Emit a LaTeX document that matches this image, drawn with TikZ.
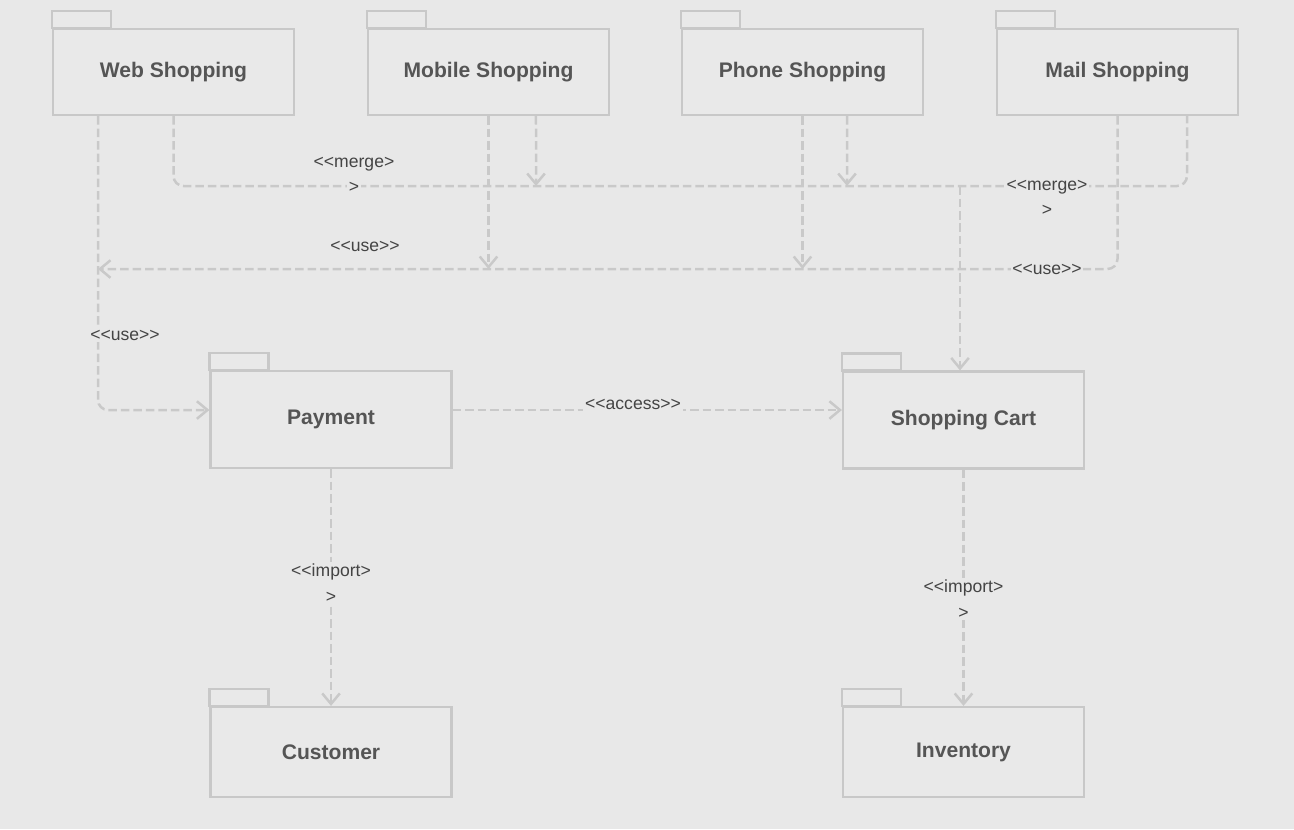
\documentclass[tikz,border=0pt]{standalone}
\usepackage{fontspec}
\setmainfont{Liberation Sans}[Ligatures=TeXOff]
\usetikzlibrary{arrows.meta}
\setlength{\fboxsep}{1pt}

\definecolor{bgcol}{HTML}{E8E8E8}
\definecolor{pkgfill}{HTML}{E9E9E9}
\definecolor{pkgline}{HTML}{C8C8C8}
\definecolor{depline}{HTML}{C9C9C9}
\definecolor{pkgtext}{HTML}{555555}
\definecolor{lbltext}{HTML}{444444}

\tikzset{
    pkg/.style={draw=pkgline, fill=pkgfill, line width=0.045cm, minimum width=4.82cm,
        text=pkgtext, font=\fontsize{12}{14}\selectfont\bfseries},
    pkgtab/.style={draw=pkgline, fill=pkgfill, line width=0.045cm},
    dep/.style={draw=depline, line width=0.05cm, dash pattern=on 0.17cm off 0.08cm,
        rounded corners=0.2cm},
    deparrow/.style={dep, -{Straight Barb[length=6pt,width=10pt]}},
    lbl/.style={text=lbltext, font=\fontsize{10}{14.5}\selectfont, align=center,
        inner sep=1pt, fill=bgcol}
}

\begin{document}
\begin{tikzpicture}[x=0.02cm, y=-0.02cm]

    \fill[bgcol] (0,0) rectangle (1294,829);
    \useasboundingbox (0,0) rectangle (1294,829);

    % top row of packages
    \node[pkg, minimum height=1.72cm] (web) at (173.5,72) {Web Shopping};
    \draw[pkgtab] (web.north west) rectangle ++(59,-17);

    \node[pkg, minimum height=1.72cm] (mobile) at (488.5,72) {Mobile Shopping};
    \draw[pkgtab] (mobile.north west) rectangle ++(59,-17);

    \node[pkg, minimum height=1.72cm] (phone) at (802.5,72) {Phone Shopping};
    \draw[pkgtab] (phone.north west) rectangle ++(59,-17);

    \node[pkg, minimum height=1.72cm] (mail) at (1117.5,72) {Mail Shopping};
    \draw[pkgtab] (mail.north west) rectangle ++(59,-17);

    % middle row
    \node[pkg, minimum height=1.94cm] (pay) at (331,419.5) {Payment};
    \draw[pkgtab] (pay.north west) rectangle ++(59,-17);

    \node[pkg, minimum height=1.94cm] (cart) at (963.5,420) {Shopping Cart};
    \draw[pkgtab] (cart.north west) rectangle ++(59,-17);

    % bottom row
    \node[pkg, minimum height=1.8cm] (cust) at (331,752) {Customer};
    \draw[pkgtab] (cust.north west) rectangle ++(59,-17);

    \node[pkg, minimum height=1.8cm] (inv) at (963.5,752) {Inventory};
    \draw[pkgtab] (inv.north west) rectangle ++(59,-17);

    % bus points
    \coordinate (mergeR) at (1187,186);
    \coordinate (mergeJ) at (960,186);
    \coordinate (mergeM) at (536,186);
    \coordinate (mergeP) at (847,186);
    \coordinate (useL) at (98,269);
    \coordinate (useM) at (488.5,269);
    \coordinate (useP) at (802.5,269);

    % merge
    \draw[dep] (web.south) |- (mergeR) -- ([xshift=1.39cm]mail.south);
    \draw[deparrow] (mergeJ) -- (cart.north -| mergeJ);
    \draw[deparrow] ([xshift=0.95cm]mobile.south) -- (mergeM);
    \draw[deparrow] ([xshift=0.89cm]phone.south) -- (mergeP);

    % use
    \draw[deparrow] (mail.south) |- (useL);
    \draw[deparrow] (mobile.south) -- (useM);
    \draw[deparrow] (phone.south) -- (useP);
    \draw[deparrow] ([xshift=-1.51cm]web.south) |- ([yshift=0.19cm]pay.west);

    % access and import
    \draw[deparrow] ([yshift=0.19cm]pay.east) -- ([yshift=0.19cm]pay.east -| cart.west);
    \draw[deparrow] (pay.south) -- (cust.north);
    \draw[deparrow] (cart.south) -- (inv.north);

    % labels
    \node[lbl, fill=none] (mergeA) at (354,175.5) {<<merge>\\\colorbox{bgcol}{>}};
    \node[lbl] (mergeB) at (1047,198) {<<merge>\\>};
    \node[lbl, fill=none] (useA) at (365,246) {<<use>>};
    \node[lbl] (useB) at (1047,269) {<<use>>};
    \node[lbl] (useC) at (125,335) {<<use>>};
    \node[lbl] (accessA) at (633,404) {<<access>>};
    \node[lbl] (importA) at (331,583) {<<import>\\>};
    \node[lbl] (importB) at (963.5,599) {<<import>\\>};

\end{tikzpicture}
\end{document}
